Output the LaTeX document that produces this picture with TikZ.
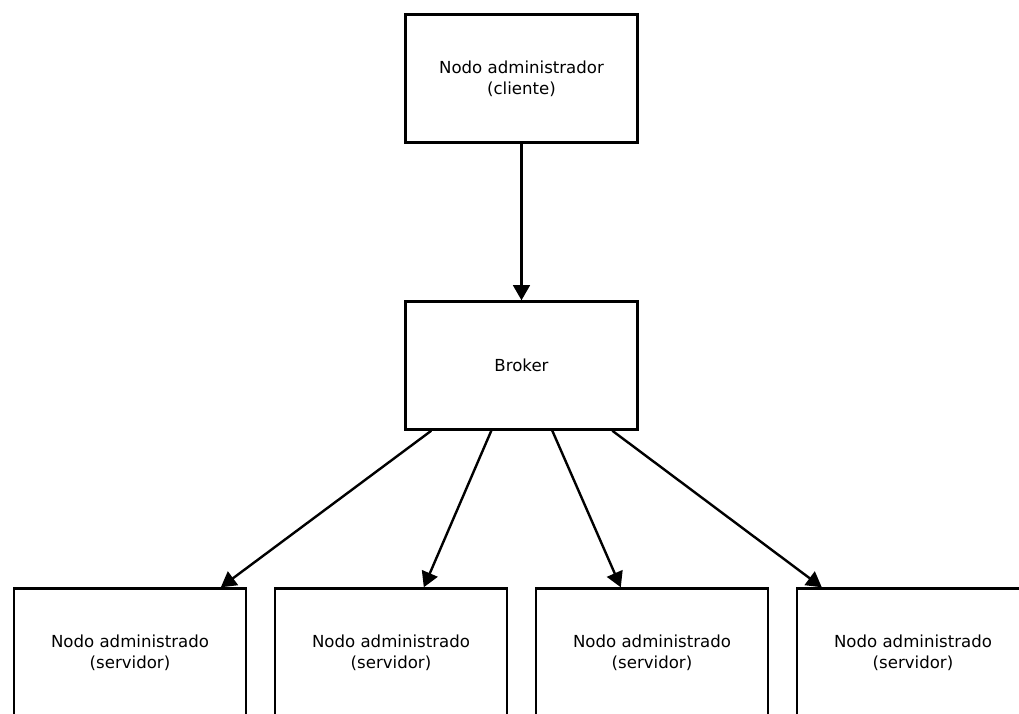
\documentclass[tikz,border=0pt]{standalone}
\usepackage{fontspec}
\setmainfont{DejaVu Sans}
\usetikzlibrary{arrows.meta}

\begin{document}
\begin{tikzpicture}[x=0.025cm,y=-0.025cm,line width=0.06cm,
    caja/.style={draw,rectangle,align=center,minimum width=5.8cm,
      minimum height=3.2cm,font=\fontsize{11.8}{15}\selectfont},
    flecha/.style={-{Triangle[length=0.38cm,width=0.42cm]}}
    ]
  \useasboundingbox (0,0) rectangle (1019,713);
  \clip (0,0) rectangle (1019,713);

  \node[caja] (cliente) at (521.5,78.5) {Nodo administrador\\(cliente)};
  \node[caja] (broker)  at (521.5,365.5) {Broker};
  \node[caja] (serv1) at (130,652.5) {Nodo administrado\\(servidor)};
  \node[caja] (serv2) at (391,652.5) {Nodo administrado\\(servidor)};
  \node[caja] (serv3) at (652,652.5) {Nodo administrado\\(servidor)};
  \node[caja] (serv4) at (913,652.5) {Nodo administrado\\(servidor)};

  \draw[flecha] (cliente.south) -- (broker.north);
  \draw[flecha] ([xshift=0.675cm]broker.south west) -- ([xshift=5.2cm]serv1.north west);
  \draw[flecha] ([xshift=2.175cm]broker.south west) -- ([xshift=3.75cm]serv2.north west);
  \draw[flecha] ([xshift=3.7cm]broker.south west) -- ([xshift=2.15cm]serv3.north west);
  \draw[flecha] ([xshift=5.2cm]broker.south west) -- ([xshift=0.65cm]serv4.north west);
\end{tikzpicture}
\end{document}
